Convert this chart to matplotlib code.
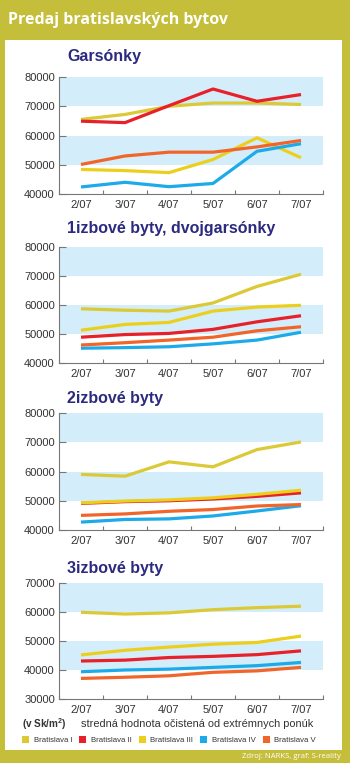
import matplotlib.pyplot as plt
from matplotlib.patches import Rectangle, Patch

# data (v Sk/m2)
months = ['2/07', '3/07', '4/07', '5/07', '6/07', '7/07']
series = ['Bratislava I', 'Bratislava II', 'Bratislava III', 'Bratislava IV', 'Bratislava V']
colors = ['#dcc936', '#e8202a', '#eccf1c', '#1cabe8', '#f2652a']

garsonky = [
    [65500, 67200, 70000, 71100, 71100, 70600],
    [64900, 64400, 70200, 75900, 71700, 74000],
    [48400, 48000, 47300, 51800, 59200, 52400],
    [42400, 44000, 42500, 43600, 54600, 57200],
    [50100, 53000, 54300, 54300, 56100, 58300],
]
izb1 = [
    [58700, 58200, 57900, 60700, 66400, 70600],
    [48900, 49800, 50200, 51600, 54200, 56300],
    [51300, 53300, 54000, 57900, 59300, 59900],
    [45100, 45300, 45600, 46600, 47900, 50600],
    [46200, 47000, 47900, 48900, 51100, 52500],
]
izb2 = [
    [59000, 58400, 63300, 61600, 67500, 70100],
    [49100, 49700, 50000, 50600, 51500, 52700],
    [49300, 49900, 50300, 51000, 52200, 53600],
    [42700, 43600, 43800, 44800, 46500, 48300],
    [45000, 45500, 46400, 47000, 48200, 48700],
]
izb3 = [
    [59900, 59300, 59700, 60800, 61500, 62000],
    [43100, 43400, 44300, 44700, 45300, 46600],
    [45200, 46800, 47900, 48900, 49500, 51700],
    [39400, 40000, 40300, 40900, 41500, 42600],
    [37100, 37500, 38000, 39200, 39700, 40900],
]

panels = [
    ('Garsónky', garsonky, (40000, 80000), [(70000, 80000), (50000, 60000)], 77, 194, 57),
    ('1izbové byty, dvojgarsónky', izb1, (40000, 80000), [(70000, 80000), (50000, 60000)], 247, 363, 229),
    ('2izbové byty', izb2, (40000, 80000), [(70000, 80000), (50000, 60000)], 413, 530, 399),
    ('3izbové byty', izb3, (30000, 70000), [(60000, 70000), (40000, 50000)], 583, 699, 568),
]

W, H = 350, 763
OLIVE = '#c5be3a'
NAVY = '#2b2a7f'
GREY = '#333333'

plt.rcParams['font.family'] = ['Liberation Sans', 'DejaVu Sans']

fig = plt.figure(figsize=(W / 100, H / 100), dpi=100, facecolor=OLIVE)

def fx(px):
    return px / W

def fy(py):
    return 1 - py / H

# white panel behind everything
fig.patches.append(Rectangle((fx(5), fy(750)), fx(342) - fx(5), fy(40) - fy(750),
                             transform=fig.transFigure, facecolor='white', edgecolor='none', zorder=-10))

fig.text(fx(8), fy(20), 'Predaj bratislavských bytov', color='white', fontsize=11.5,
         fontweight='bold', family=['Open Sans', 'DejaVu Sans'], va='center', ha='left')

x = [i + 0.5 for i in range(len(months))]

for title, data, ylim, bands, top, bottom, ty in panels:
    ax = fig.add_axes([fx(59), fy(bottom), fx(323) - fx(59), fy(top) - fy(bottom)], zorder=2)
    ax.set_facecolor('none')
    for lo, hi in bands:
        ax.axhspan(lo, hi, color='#d3eefa', lw=0, zorder=0)
    for vals, c in zip(data, colors):
        ax.plot(x, vals, color=c, lw=2.3, solid_capstyle='butt', zorder=2)
    ax.set_xlim(0, 6)
    ax.set_ylim(*ylim)
    ax.set_yticks(range(ylim[0], ylim[1] + 1, 10000))
    ax.set_xticks(x)
    ax.set_xticklabels(months)
    ax.set_xticks(range(7), minor=True)
    ax.tick_params(axis='x', which='major', length=0, pad=4, labelsize=8, labelcolor=GREY)
    ax.tick_params(axis='x', which='minor', direction='in', length=3, color='#777777', width=0.8)
    ax.tick_params(axis='y', direction='in', length=5, color='#777777', width=0.8,
                   pad=3, labelsize=8, labelcolor=GREY)
    for s in ['top', 'right']:
        ax.spines[s].set_visible(False)
    for s in ['left', 'bottom']:
        ax.spines[s].set_color('#777777')
        ax.spines[s].set_linewidth(0.8)
    fig.text(fx(67), fy(ty), title, color=NAVY, fontsize=11.5, fontweight='bold',
             va='center', ha='left')

fig.text(fx(22), fy(724), r'(v Sk/m$^\mathregular{2}$)', color=GREY, fontsize=7.2,
         fontweight='bold', va='center', ha='left')
fig.text(fx(81), fy(724), 'stredná hodnota očistená od extrémnych ponúk', color=GREY,
         fontsize=7.9, va='center', ha='left')

handles = [Patch(facecolor=c, edgecolor='none') for c in colors]
fig.legend(handles, series, loc='center left', bbox_to_anchor=(fx(22), fy(740)), ncol=5,
           frameon=False, fontsize=5.6, handlelength=0.9, handleheight=0.9,
           handletextpad=0.6, columnspacing=0.9, labelcolor=GREY, borderpad=0,
           borderaxespad=0)

fig.text(fx(341), fy(757), 'Zdroj: NARKS, graf: S-reality', color='white', fontsize=5.6,
         family=['Open Sans', 'DejaVu Sans'], va='center', ha='right')

fig.savefig('out.png', dpi=100, facecolor=OLIVE)
